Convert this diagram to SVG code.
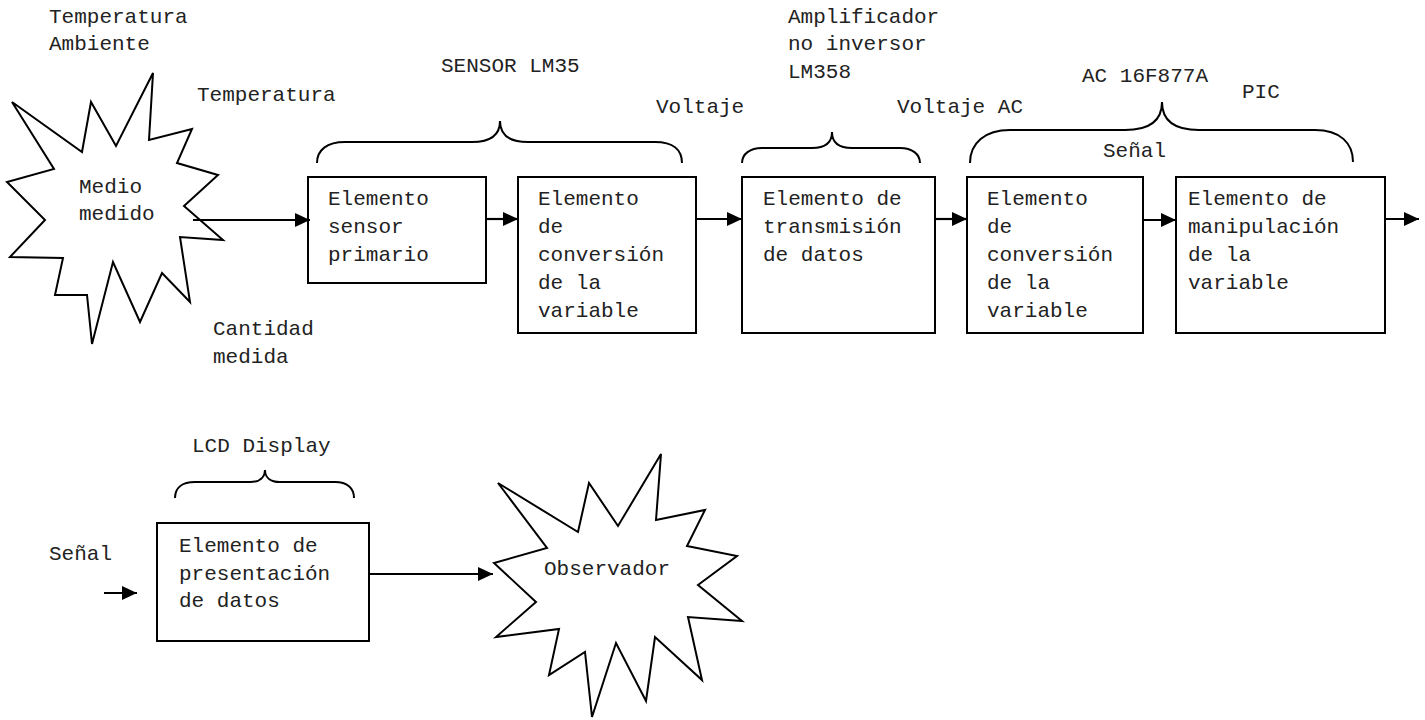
<svg xmlns="http://www.w3.org/2000/svg" width="1425" height="720" viewBox="0 0 1425 720">
<style>
text{font-family:"Liberation Mono","Courier New",monospace;font-size:21px;fill:#222}
.box{fill:#fff;stroke:#000;stroke-width:2}
.star{fill:#fff;stroke:#000;stroke-width:2;stroke-linejoin:miter}
.brace{fill:none;stroke:#000;stroke-width:2}
.conn{stroke:#000;stroke-width:2.2;fill:none;marker-end:url(#ah)}
</style>
<defs>
<marker id="ah" viewBox="0 0 15 14" refX="15" refY="7" markerWidth="15" markerHeight="14" markerUnits="userSpaceOnUse" orient="auto">
<path d="M0,0 L15,7 L0,14 z" fill="#000"/>
</marker>
</defs>
<rect width="1425" height="720" fill="#fff"/>

<g id="labels">
<text x="49" y="23">Temperatura</text>
<text x="49" y="50">Ambiente</text>
<text x="197" y="101">Temperatura</text>
<text x="441" y="72">SENSOR LM35</text>
<text x="656" y="113">Voltaje</text>
<text x="788" y="23">Amplificador</text>
<text x="788" y="50">no inversor</text>
<text x="788" y="78">LM358</text>
<text x="897" y="113">Voltaje AC</text>
<text x="1082" y="82">AC 16F877A</text>
<text x="1242" y="98">PIC</text>
<text x="1103" y="157">Señal</text>
<text x="213" y="335">Cantidad</text>
<text x="213" y="363">medida</text>
<text x="192" y="452">LCD Display</text>
<text x="49" y="560">Señal</text>
</g>

<g id="braces">
<path class="brace" d="M317,163 C317,150 327,142 345,142 L472,142 C490,142 500,135 500,121 C500,135 510,142 528,142 L655,142 C673,142 682,150 682,163"/>
<path class="brace" d="M742,163 C742,154 750,148 762,148 L812,148 C826,148 832,142 832,132 C832,142 838,148 852,148 L900,148 C912,148 920,154 920,163"/>
<path class="brace" d="M970,163 C970,143 985,130 1010,130 L1125,130 C1150,130 1162,120 1162,102 C1162,120 1174,130 1199,130 L1315,130 C1340,130 1353,143 1353,162"/>
<path class="brace" d="M175,498 C175,488 182,482 195,482 L250,482 C260,482 265,477 265,470 C265,477 270,482 280,482 L335,482 C347,482 354,488 354,498"/>
</g>

<g id="medio">
<polygon class="star" points="153,73 149,140 192,129 177,163 218,175 184,206 223,240 180,237 190,302 162,273 140,322 113,262 92,344 87,295 55,295 63,258 10,257 45,220 7,182 54,169 12,102 82,152 91,102 116,146"/>
<text x="79" y="193">Medio</text>
<text x="79" y="220">medido</text>
</g>

<g id="box1">
<rect class="box" x="308" y="177" width="178" height="106"/>
<text x="328" y="205">Elemento</text>
<text x="328" y="233">sensor</text>
<text x="328" y="261">primario</text>
</g>

<g id="box2">
<rect class="box" x="518" y="177" width="178" height="156"/>
<text x="538" y="205">Elemento</text>
<text x="538" y="233">de</text>
<text x="538" y="261">conversión</text>
<text x="538" y="289">de la</text>
<text x="538" y="317">variable</text>
</g>

<g id="box3">
<rect class="box" x="742" y="177" width="193" height="156"/>
<text x="763" y="205">Elemento de</text>
<text x="763" y="233">transmisión</text>
<text x="763" y="261">de datos</text>
</g>

<g id="box4">
<rect class="box" x="967" y="177" width="176" height="156"/>
<text x="987" y="205">Elemento</text>
<text x="987" y="233">de</text>
<text x="987" y="261">conversión</text>
<text x="987" y="289">de la</text>
<text x="987" y="317">variable</text>
</g>

<g id="box5">
<rect class="box" x="1176" y="177" width="209" height="156"/>
<text x="1188" y="205">Elemento de</text>
<text x="1188" y="233">manipulación</text>
<text x="1188" y="261">de la</text>
<text x="1188" y="289">variable</text>
</g>

<g id="box6">
<rect class="box" x="157" y="523" width="212" height="118"/>
<text x="179" y="552">Elemento de</text>
<text x="179" y="580">presentación</text>
<text x="179" y="607">de datos</text>
</g>

<g id="observador">
<polygon class="star" points="498,483 578,532 589,483 618,526 661,454 656,520 705,510 687,546 737,556 698,585 742,621 688,617 702,680 655,637 646,701 616,643 592,717 585,652 549,675 559,629 496,637 536,602 494,563 547,548"/>
<text x="544" y="575">Observador</text>
</g>

<g id="connectors">
<line class="conn" x1="193" y1="220" x2="310" y2="220"/>
<line class="conn" x1="486" y1="219" x2="518" y2="219"/>
<line class="conn" x1="696" y1="219" x2="742" y2="219"/>
<line class="conn" x1="935" y1="219" x2="967" y2="219"/>
<line class="conn" x1="1143" y1="220" x2="1176" y2="220"/>
<line class="conn" x1="1385" y1="219" x2="1419" y2="219"/>
<line class="conn" x1="104" y1="593" x2="137" y2="593"/>
<line class="conn" x1="369" y1="574" x2="493" y2="574"/>
</g>
</svg>
